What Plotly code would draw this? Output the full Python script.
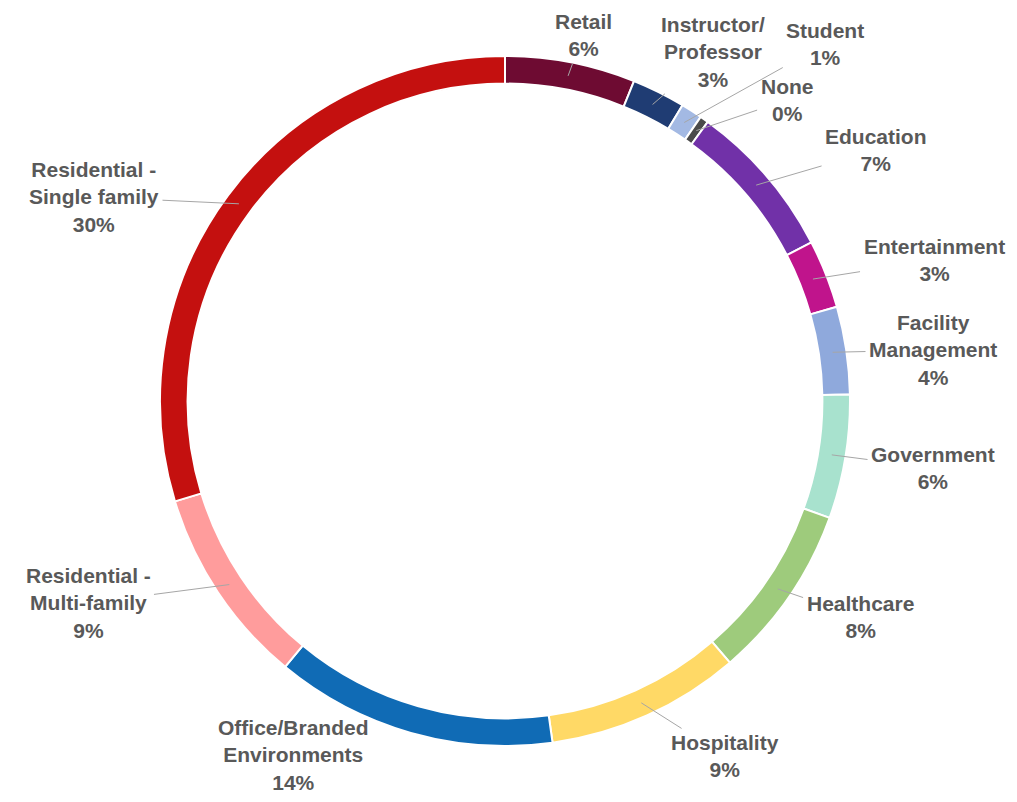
import math
import plotly.graph_objects as go

categories = ["Retail", "Instructor/<br>Professor", "Student", "None", "Education",
              "Entertainment", "Facility<br>Management", "Government", "Healthcare",
              "Hospitality", "Office/Branded<br>Environments", "Residential -<br>Multi-family",
              "Residential -<br>Single family"]
values = [6.1, 2.5, 1.0, 0.4, 7.4, 3.2, 4.1, 5.8, 8.2, 9.1, 13.2, 9.3, 29.7]
pct_labels = ["6%", "3%", "1%", "0%", "7%", "3%", "4%", "6%", "8%", "9%", "14%", "9%", "30%"]
colors = ["#6E0B32", "#1F3C73", "#A3B9E3", "#4A4A4A", "#7131A8", "#C0148C", "#8FA9DC",
          "#A8E2CE", "#9ECB7C", "#FFD966", "#106BB5", "#FF9C9C", "#C4100F"]

# label text-centre positions in page pixels and leader-line visibility (layout only)
label_px = [(583, 35), (713, 52), (825, 44), (787, 100), (876, 150), (934, 260),
            (933, 350), (933, 468), (860, 617), (725, 756), (293, 755), (88, 603), (94, 197)]
show_line = [True] * 10 + [False, True, True]

OFF = 8                     # page body margin
W, H = 1001, 786            # figure size
CX, CY, R_OUT = 505 - OFF, 401 - OFF, 345
HOLE = 0.92
R_MID = R_OUT * (1 + HOLE) / 2

fig = go.Figure(go.Pie(
    labels=[c.replace("<br>", " ") for c in categories],
    values=values,
    sort=False, direction="clockwise", rotation=0,
    hole=HOLE,
    marker=dict(colors=colors, line=dict(color="white", width=2)),
    textinfo="none", hoverinfo="label+percent",
    domain=dict(x=[(CX - R_OUT) / W, (CX + R_OUT) / W],
                y=[(H - CY - R_OUT) / H, (H - CY + R_OUT) / H]),
    showlegend=False,
))

total = sum(values)
cum = 0.0
annotations = []
for cat, v, p, (lx, ly), sl in zip(categories, values, pct_labels, label_px, show_line):
    mid = (cum + v / 2) / total * 2 * math.pi
    cum += v
    px = CX + R_MID * math.sin(mid)
    py = CY - R_MID * math.cos(mid)
    lx, ly = lx - OFF, ly - OFF
    lines = f"{cat}<br>{p}".split("<br>")
    annotations.append(dict(
        x=px / W, y=1 - py / H, xref="paper", yref="paper",
        ax=lx - px, ay=ly - py, axref="pixel", ayref="pixel",
        text="<br>".join(f"<b>{t}</b>" for t in lines),
        showarrow=True, arrowhead=0, arrowwidth=1,
        arrowcolor="#A6A6A6" if sl else "rgba(0,0,0,0)", standoff=0, startstandoff=2,
        font=dict(family="Liberation Sans, Arial, sans-serif", size=21, color="#595959"),
        align="center",
    ))

fig.update_layout(
    width=W, height=H,
    margin=dict(l=0, r=0, t=0, b=0),
    paper_bgcolor="white", plot_bgcolor="white",
    annotations=annotations,
    font=dict(family="Liberation Sans, Arial, sans-serif"),
)

fig.write_html("out.html")
